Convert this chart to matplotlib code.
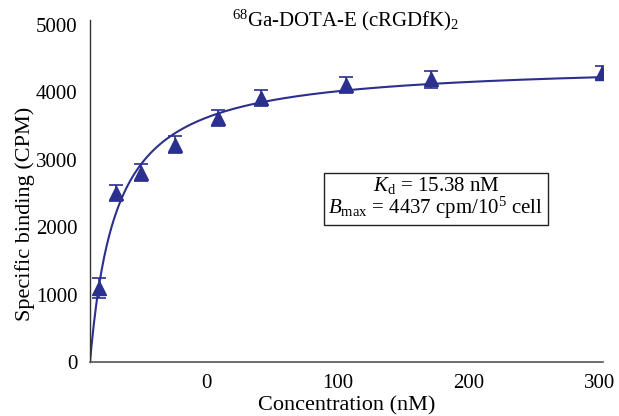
import numpy as np
import matplotlib
matplotlib.use("Agg")
import matplotlib.pyplot as plt

plt.rcParams['font.family'] = ['Liberation Serif', 'DejaVu Serif']
plt.rcParams['mathtext.fontset'] = 'custom'
plt.rcParams['mathtext.rm'] = 'Liberation Serif'
plt.rcParams['mathtext.it'] = 'Liberation Serif:italic'

# binding data
conc = [5, 15, 30, 50, 75, 100, 150, 200, 300]
binding = [1096, 2504, 2807, 3222, 3615, 3911, 4104, 4188, 4284]
err = [148, 120, 130, 120, 125, 118, 118, 130, 95]

kd = 15.38
bmax = 4437

xtick_labels = ["0", "100", "200", "300"]
ytick_vals = [0, 1000, 2000, 3000, 4000, 5000]

color = "#2B2F8E"

fig = plt.figure(figsize=(6.19, 4.16), dpi=100)
ax = fig.add_axes([90 / 619, 1 - 362 / 416, 513 / 619, 342 / 416])

# fitted one-site curve
xf = np.linspace(0, 300, 400)
ax.plot(xf, bmax * xf / (kd + xf), color=color, lw=1.5, zorder=2)

ax.errorbar(conc, binding, yerr=err, fmt='^', color=color, ms=10,
            capsize=5, elinewidth=1.2, capthick=1.2, zorder=3)

ax.set_xlim(0, 300.5)
ax.set_ylim(0, 5067)

# tick labels sit where they do in the original figure
ax.set_xticks([68.4, 145, 221.6, 298.2])
ax.set_xticklabels(xtick_labels)
ax.set_yticks(ytick_vals)
ax.tick_params(axis='both', length=0, labelsize=15)
ax.tick_params(axis='x', pad=9)
ax.tick_params(axis='y', pad=9)

for s in ['top', 'right']:
    ax.spines[s].set_visible(False)
ax.spines['left'].set_color('#333333')
ax.spines['bottom'].set_color('#555555')
ax.spines['left'].set_linewidth(1.0)
ax.spines['bottom'].set_linewidth(1.2)

ax.set_xlabel("Concentration (nM)", fontsize=16, labelpad=2)
ax.set_ylabel("Specific binding (CPM)", fontsize=16)
ax.yaxis.set_label_coords(-0.108, 0.433)

fig.text(346 / 619, 1 - 20 / 416, r"$^{68}$Ga-DOTA-E (cRGDfK)$_2$",
         fontsize=15, ha='center', va='center')

ax.text((436 - 90) / 513, (362 - 198) / 342,
        "$K_\\mathrm{d}$ = 15.38 nM\n$B_\\mathrm{max}$ = 4437 cpm/10$^5$ cell",
        transform=ax.transAxes, fontsize=15, ha='center', va='center',
        linespacing=0.95,
        bbox=dict(boxstyle='square,pad=0.2', facecolor='white',
                  edgecolor='#222222', lw=1))

fig.savefig("out.png", dpi=100)
